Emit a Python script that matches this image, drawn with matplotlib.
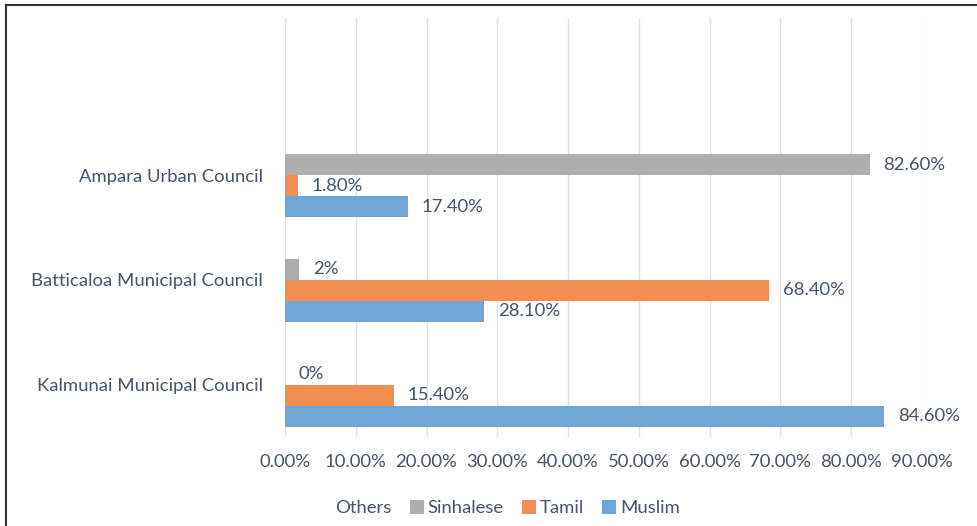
import matplotlib.pyplot as plt
import numpy as np
from matplotlib.patches import Patch
from matplotlib.lines import Line2D

# Data (bottom to top as drawn)
councils = ["Kalmunai Municipal Council", "Batticaloa Municipal Council", "Ampara Urban Council"]
muslim = [84.6, 28.1, 17.4]
tamil = [15.4, 68.4, 1.8]
sinhalese = [0.0, 2.0, 82.6]
others = [np.nan, np.nan, np.nan]  # no values shown
label_muslim = ["84.60%", "28.10%", "17.40%"]
label_tamil = ["15.40%", "68.40%", "1.80%"]
label_sinhalese = ["0%", "2%", "82.60%"]
xticks = np.arange(0, 91, 10)

text_color = "#44546A"
fs = 13.3
plt.rcParams['font.family'] = ['Lato', 'DejaVu Sans']

fig = plt.figure(figsize=(9.78, 5.26), dpi=100)
ax = fig.add_axes([0.2914, 0.1692, 0.9427 - 0.2914, 0.9658 - 0.1692])

y = np.arange(len(councils))
h = 0.2
b1 = ax.barh(y - 1.5 * h, muslim, height=h, color="#70A5D8")
b2 = ax.barh(y - 0.5 * h, tamil, height=h, color="#F28E52")
b3 = ax.barh(y + 0.5 * h, sinhalese, height=h, color="#AEAEAE")
b4 = ax.barh(y + 1.5 * h, others, height=h, color="#FFC000")

for bars, labs in [(b1, label_muslim), (b2, label_tamil), (b3, label_sinhalese)]:
    ax.bar_label(bars, labels=labs, padding=10, color=text_color, fontsize=fs)

ax.set_xlim(0, 90)
ax.set_ylim(-0.5, 3.5)
ax.set_xticks(xticks)
ax.set_xticklabels([f"{v:.2f}%" for v in xticks], color=text_color, fontsize=fs)
ax.set_yticks(y)
ax.set_yticklabels(councils, color=text_color, fontsize=fs)
ax.tick_params(axis='x', length=0, pad=12)
ax.tick_params(axis='y', length=0, pad=16)
ax.grid(axis='x', color="#DCE2EA", linewidth=1)
ax.set_axisbelow(True)
for s in ax.spines.values():
    s.set_visible(False)

# legend: Others has no visible swatch
handles = [Patch(facecolor='none', edgecolor='none'),
           Patch(facecolor="#AEAEAE"), Patch(facecolor="#F28E52"), Patch(facecolor="#70A5D8")]
fig.legend(handles, ["Others", "Sinhalese", "Tamil", "Muslim"], loc='center',
           bbox_to_anchor=(0.51, 0.034), ncol=4, frameon=False, fontsize=fs,
           labelcolor=text_color, handlelength=0.75, handleheight=0.75,
           handletextpad=0.2, columnspacing=1.0)

# partial frame (top and left edges)
fig.add_artist(Line2D([0.006, 1.0], [0.99, 0.99], color="#333333", linewidth=1.5))
fig.add_artist(Line2D([0.006, 0.006], [0.0, 0.99], color="#333333", linewidth=1.5))

plt.savefig('out.png', dpi=100)
